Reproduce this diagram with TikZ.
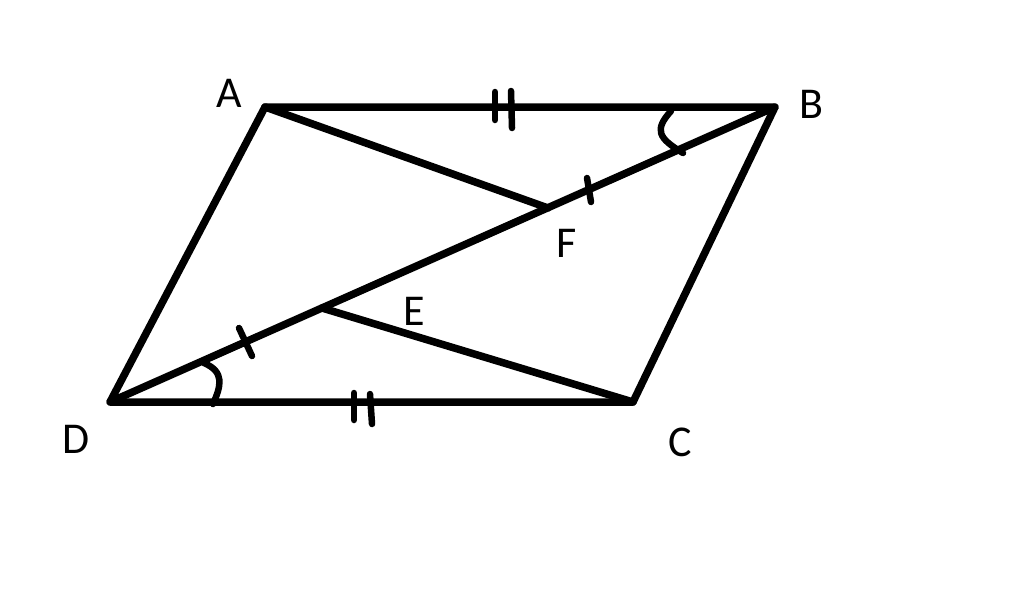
\documentclass[tikz,border=0pt]{standalone}
\usepackage{fontspec}
\setmainfont{Carlito}
\begin{document}
\begin{tikzpicture}[x=1pt,y=-1pt,
  seg/.style={line width=7.5pt,line cap=round,line join=round},
  tick/.style={line width=6.5pt,line cap=round,line join=round},
  lbl/.style={anchor=base,inner sep=0pt,font=\fontsize{44}{50}\selectfont,text=black}]
\useasboundingbox (0,0) rectangle (1024,613);
\coordinate (A) at (265,107);
\coordinate (B) at (775,107);
\coordinate (C) at (633,402);
\coordinate (D) at (110,402);
\coordinate (F) at (548,208);
\coordinate (E) at (322,308);
\draw[seg] (A) -- (B) -- (C) -- (D) -- cycle;
\draw[seg] (B) -- (D);
\draw[seg] (A) -- (F);
\draw[seg] (C) -- (E);
% double ticks
\draw[tick] (495,92) -- (495,120);
\draw[tick] (511,91) -- (512,128);
\draw[tick] (354,393) -- (354,420);
\draw[tick] (370,394) -- (372,424);
% single ticks
\draw[tick] (587,178) -- (591,202);
\draw[tick] (239,328) -- (252,356);
% angle marks
\coordinate (b1) at (671,111);
\coordinate (b2) at (683,153);
\draw[tick] (b1) .. controls (654,130) and (658,138) .. (b2);
\coordinate (d1) at (213,404);
\coordinate (d2) at (204,363);
\draw[tick] (d1) .. controls (221,386) and (225,372) .. (d2);
% labels
\node[lbl] (lA) at (229,107) {A};
\node[lbl] (lB) at (811,118) {B};
\node[lbl] (lC) at (680,456) {C};
\node[lbl] (lD) at (76,453) {D};
\node[lbl] (lE) at (414,325) {E};
\node[lbl] (lF) at (567,257) {F};
\end{tikzpicture}
\end{document}
